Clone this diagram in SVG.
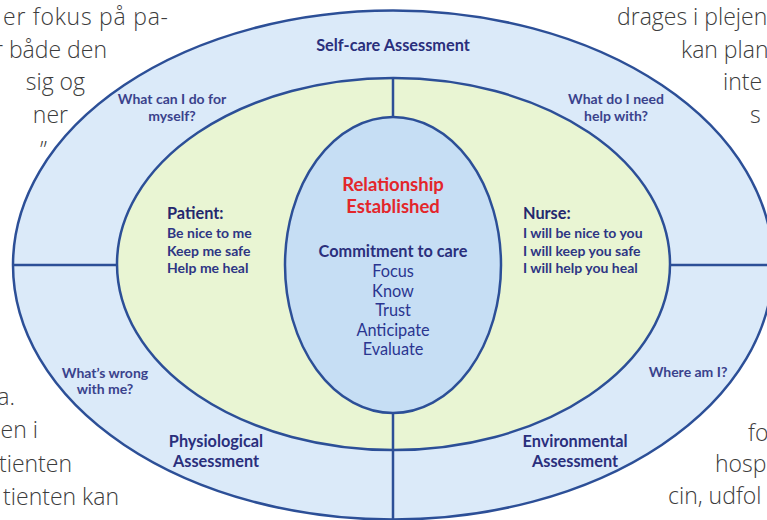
<svg xmlns="http://www.w3.org/2000/svg" width="767" height="520" viewBox="0 0 767 520">
<defs>
<style>
.bg{font-family:"Open Sans","Noto Sans",sans-serif;font-weight:300;font-size:23px;fill:#3c3c3c}
.ring{stroke:#2C4F97;stroke-width:2.5}
.conn{stroke:#2C4F97;stroke-width:2.5;fill:none}
.t{font-family:Lato,"Liberation Sans",sans-serif;fill:#2A2F7C;text-anchor:middle}
.h{font-weight:700;font-size:16.3px}
.q{font-weight:700;font-size:14px;fill:#3A428C}
.l{font-family:Lato,"Liberation Sans",sans-serif;fill:#2E3584;font-weight:700;font-size:14px}
.lh{font-size:16.3px;fill:#24286E}
.red{font-weight:700;font-size:18.5px;fill:#E3262B}
.reg{font-size:16.3px;font-weight:400;fill:#2A3590}
</style>
</defs>
<rect width="767" height="520" fill="#ffffff"/>
<g id="page-text">
<text class="bg" x="3" y="25" textLength="165" lengthAdjust="spacing">er fokus på pa-</text>
<text class="bg" x="107" y="58" text-anchor="end">r både den</text>
<text class="bg" x="85" y="90" text-anchor="end">sig og</text>
<text class="bg" x="68" y="123" text-anchor="end">ner</text>
<text class="bg" x="40" y="158">”</text>
<text class="bg" x="617" y="25">drages i plejen</text>
<text class="bg" x="681" y="58">kan plan</text>
<text class="bg" x="723" y="90">inte</text>
<text class="bg" x="750" y="123">s</text>
<text class="bg" x="15" y="405" text-anchor="end">a.</text>
<text class="bg" x="38" y="438" text-anchor="end">en i</text>
<text class="bg" x="72" y="472" text-anchor="end">tienten</text>
<text class="bg" x="119" y="505" text-anchor="end">tienten kan</text>
<text class="bg" x="748" y="441">fo</text>
<text class="bg" x="715" y="472">hosp</text>
<text class="bg" x="668" y="504">cin, udfol</text>
</g>
<g id="outer-ring">
<ellipse class="ring" cx="393" cy="265" rx="380" ry="254.5" fill="#DBEAF9"/>
</g>
<g id="middle-ring">
<ellipse class="ring" cx="393.5" cy="264" rx="276.5" ry="186" fill="#E9F5D3"/>
</g>
<g id="inner-core">
<ellipse class="ring" cx="393" cy="265" rx="108" ry="148" fill="#C6DEF4"/>
</g>
<g id="connectors">
<path class="conn" d="M13,265 H117"/>
<path class="conn" d="M670,265 H767"/>
<path class="conn" d="M393,78 V117"/>
<path class="conn" d="M393,413 V519"/>
</g>
<g id="self-care">
<text class="t h" x="393" y="51">Self-care Assessment</text>
<text class="t q" x="172" y="104">What can I do for</text>
<text class="t q" x="172" y="121">myself?</text>
<text class="t q" x="616" y="104">What do I need</text>
<text class="t q" x="616" y="121">help with?</text>
</g>
<g id="physiological">
<text class="t q" x="105" y="378">What’s wrong</text>
<text class="t q" x="105" y="394">with me?</text>
<text class="t h" x="216" y="447">Physiological</text>
<text class="t h" x="216" y="467">Assessment</text>
</g>
<g id="environmental">
<text class="t q" x="688" y="377">Where am I?</text>
<text class="t h" x="575" y="447">Environmental</text>
<text class="t h" x="575" y="467">Assessment</text>
</g>
<g id="patient">
<text class="l lh" x="167" y="219">Patient:</text>
<text class="l" x="167" y="238">Be nice to me</text>
<text class="l" x="167" y="256">Keep me safe</text>
<text class="l" x="167" y="273">Help me heal</text>
</g>
<g id="nurse">
<text class="l lh" x="523" y="219">Nurse:</text>
<text class="l" x="523" y="238">I will be nice to you</text>
<text class="l" x="523" y="256">I will keep you safe</text>
<text class="l" x="523" y="273">I will help you heal</text>
</g>
<g id="core-text">
<text class="t red" x="393" y="191">Relationship</text>
<text class="t red" x="393" y="213">Established</text>
<text class="t h" x="393" y="257">Commitment to care</text>
<text class="t reg" x="393" y="277">Focus</text>
<text class="t reg" x="393" y="297">Know</text>
<text class="t reg" x="393" y="316">Trust</text>
<text class="t reg" x="393" y="336">Anticipate</text>
<text class="t reg" x="393" y="355">Evaluate</text>
</g>
</svg>
